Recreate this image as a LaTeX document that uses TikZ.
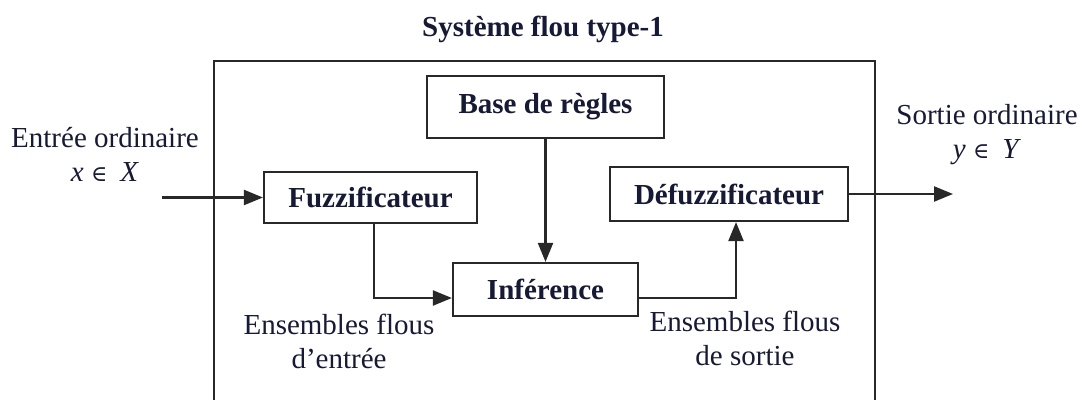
\documentclass[tikz,border=0pt]{standalone}
\usepackage{fontspec}
\setmainfont{Liberation Serif}
\newfontfamily\symfont{DejaVu Serif}
\usetikzlibrary{arrows.meta}
\definecolor{ink}{RGB}{22,26,52}
\definecolor{linec}{RGB}{40,40,40}
\newcommand{\elemof}{{\symfont\fontsize{11}{12}\selectfont ∈}}
\begin{document}
\begin{tikzpicture}[x=0.5pt,y=-0.5pt,
  every node/.style={font=\fontsize{14.5}{17}\selectfont, text=ink, inner sep=0pt},
  blk/.style={draw=linec, line width=1.1pt, font=\fontsize{14.5}{17}\selectfont\bfseries},
  lbl/.style={align=center},
  conn/.style={draw=linec, line width=1.1pt, -{Triangle[length=9.5pt,width=7.5pt]}}]
  % canvas
  \clip (0,0) rectangle (1085,400);
  \fill[white] (0,0) rectangle (1085,400);

  % enclosing system frame
  \draw[linec, line width=1.1pt] (214,61) rectangle (875,440);
  \node[font=\fontsize{14.5}{17}\selectfont\bfseries] (title) at (543,29) {Système flou type-1};

  % processing blocks
  \node[blk, minimum width=118.5pt, minimum height=31pt] (base) at (545.5,107) {Base de règles};
  \node[blk, minimum width=106.5pt, minimum height=25.5pt] (fuzz) at (370.5,197.5) {Fuzzificateur};
  \node[blk, minimum width=92.5pt, minimum height=26.5pt] (inf) at (545.5,289.5) {Inférence};
  \node[blk, minimum width=119pt, minimum height=27pt] (defuzz) at (729,194) {Défuzzificateur};

  % free ends of the outer arrows
  \coordinate (in) at (162,197.5);
  \coordinate (out) at (953,194);

  % connectors
  \draw[conn] (in) -- (fuzz.west);
  \draw[conn] (base.south) -- (inf.north);
  \draw[conn] ([xshift=1.75pt]fuzz.south) |- ([yshift=-4.25pt]inf.west);
  \draw[conn] ([yshift=-4.25pt]inf.east) -| ([xshift=3.5pt]defuzz.south);
  \draw[conn] (defuzz.east) -- (out);

  % annotations
  \node[lbl] (inlbl) at (105,154) {Entrée ordinaire\\\textit{x} \elemof\hspace{0.45em}\textit{X}};
  \node[lbl] (outlbl) at (987,135) {Sortie ordinaire\\\textit{y} \elemof\hspace{0.45em}\textit{Y}};
  \node[lbl] (fin) at (339,341) {Ensembles flous\\d’entrée};
  \node[lbl] (fout) at (745,338) {Ensembles flous\\de sortie};
\end{tikzpicture}
\end{document}
